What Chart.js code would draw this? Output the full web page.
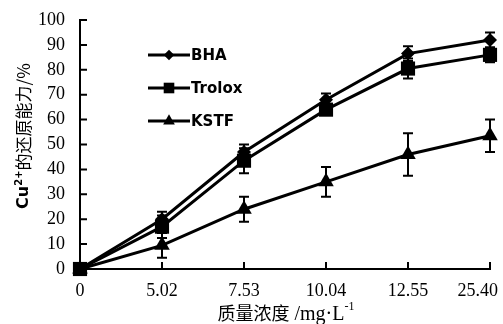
<!DOCTYPE html>
<html>
<head>
<meta charset="utf-8">
<script src="https://cdn.jsdelivr.net/npm/chart.js@4/dist/chart.umd.min.js"></script>
<style>
  html, body { margin: 0; padding: 0; background: #fff; }
  #wrap { width: 503px; height: 324px; }
</style>
</head>
<body>
<div id="wrap"><canvas id="chart" width="503" height="324"></canvas></div>
<script>
/* Cu2+ reducing power vs concentration */
const concLabels = ['0', '5.02', '7.53', '10.04', '12.55', '25.40'];
const bhaVals = [0, 20, 47, 68, 86.5, 92];
const bhaErr = [0, 3, 3, 2.5, 3, 3];
const troloxVals = [0, 17, 43.5, 64, 80.5, 86];
const troloxErr = [0, 4.5, 5, 2, 4, 3];
const kstfVals = [0, 9.5, 24, 35, 46, 53.5];
const kstfErr = [0, 5, 5, 6, 8.5, 6.5];
const seriesNames = ['BHA', 'Trolox', 'KSTF'];

const SERIF = '"Liberation Serif", "DejaVu Serif", serif';
const CJK = '"Noto Sans CJK SC", "Noto Sans", sans-serif';

function drawMarker(ctx, style, x, y, r) {
  ctx.beginPath();
  if (style === 'rectRot') {
    ctx.moveTo(x, y - r); ctx.lineTo(x + r, y); ctx.lineTo(x, y + r); ctx.lineTo(x - r, y);
  } else if (style === 'rect') {
    const s = Math.SQRT1_2 * r;
    ctx.rect(x - s, y - s, 2 * s, 2 * s);
  } else {
    const h = r * Math.sqrt(3) / 2;
    ctx.moveTo(x, y - r); ctx.lineTo(x + h, y + r / 2); ctx.lineTo(x - h, y + r / 2);
  }
  ctx.closePath();
  ctx.fill();
}

const errorBars = {
  id: 'errorBars',
  afterDatasetsDraw(chart) {
    const ctx = chart.ctx, y = chart.scales.y;
    ctx.save();
    ctx.strokeStyle = '#000';
    ctx.lineWidth = 2;
    chart.data.datasets.forEach((ds, i) => {
      const meta = chart.getDatasetMeta(i);
      meta.data.forEach((pt, j) => {
        const e = ds.errors[j];
        if (!e) return;
        const top = y.getPixelForValue(ds.data[j] + e);
        const bot = y.getPixelForValue(ds.data[j] - e);
        ctx.beginPath();
        ctx.moveTo(pt.x, top); ctx.lineTo(pt.x, bot);
        ctx.moveTo(pt.x - 5, top); ctx.lineTo(pt.x + 5, top);
        ctx.moveTo(pt.x - 5, bot); ctx.lineTo(pt.x + 5, bot);
        ctx.stroke();
      });
    });
    ctx.restore();
  }
};

const decorations = {
  id: 'decorations',
  afterDraw(chart) {
    const ctx = chart.ctx, xs = chart.scales.x, ys = chart.scales.y;
    const area = chart.chartArea;
    ctx.save();
    ctx.strokeStyle = '#000';
    ctx.fillStyle = '#000';
    ctx.lineWidth = 2;
    // inner tick marks
    ctx.beginPath();
    ys.ticks.forEach((t, i) => {
      const py = ys.getPixelForTick(i);
      ctx.moveTo(area.left, py); ctx.lineTo(area.left + 7, py);
    });
    xs.ticks.forEach((t, i) => {
      const px = xs.getPixelForTick(i);
      ctx.moveTo(px, area.bottom); ctx.lineTo(px, area.bottom - 7);
    });
    ctx.stroke();

    // x tick labels, last one kept inside the canvas
    ctx.font = '18px ' + SERIF;
    ctx.textBaseline = 'middle';
    ctx.textAlign = 'center';
    concLabels.forEach((lab, i) => {
      const w = ctx.measureText(lab).width;
      let px = xs.getPixelForTick(i);
      px = Math.min(px, 498 - w / 2);
      ctx.fillText(lab, px, area.bottom + 22);
    });

    // legend
    chart.data.datasets.forEach((ds, i) => {
      const ly = 55 + i * 33;
      ctx.lineWidth = 3;
      ctx.beginPath();
      ctx.moveTo(148, ly); ctx.lineTo(190, ly);
      ctx.stroke();
      drawMarker(ctx, ds.pointStyle, 169, ly, ds.pointRadius * 0.75);
      ctx.font = 'bold 15px "DejaVu Sans", sans-serif';
      ctx.textAlign = 'left';
      ctx.textBaseline = 'middle';
      ctx.fillText(ds.label, 191, ly + 1);
    });

    // y title
    ctx.save();
    ctx.translate(24, 136);
    ctx.rotate(-Math.PI / 2);
    ctx.textBaseline = 'middle';
    ctx.textAlign = 'left';
    const p1 = 'Cu', p2 = '2+', p3 = '的还原能力/%';
    ctx.font = 'bold 16px "DejaVu Sans", sans-serif';
    const w1 = ctx.measureText(p1).width;
    ctx.font = 'bold 10px "DejaVu Sans", sans-serif';
    const w2 = ctx.measureText(p2).width;
    ctx.font = '17px ' + CJK;
    const w3 = ctx.measureText(p3).width;
    let sx = -(w1 + w2 + w3) / 2;
    ctx.font = 'bold 16px "DejaVu Sans", sans-serif';
    ctx.fillText(p1, sx, 0); sx += w1;
    ctx.font = 'bold 10px "DejaVu Sans", sans-serif';
    ctx.fillText(p2, sx, -5); sx += w2;
    ctx.font = '17px ' + CJK;
    ctx.fillText(p3, sx, 0);
    ctx.restore();

    // x title
    const q1 = '质量浓度', q2 = ' /mg·L', q3 = '-1';
    ctx.textBaseline = 'alphabetic';
    ctx.textAlign = 'left';
    ctx.font = '18px ' + CJK;
    const v1 = ctx.measureText(q1).width;
    ctx.font = '20px ' + SERIF;
    const v2 = ctx.measureText(q2).width;
    ctx.font = '12px ' + SERIF;
    const v3 = ctx.measureText(q3).width;
    let tx = 286 - (v1 + v2 + v3) / 2;
    ctx.font = '18px ' + CJK;
    ctx.fillText(q1, tx, 320); tx += v1;
    ctx.font = '20px ' + SERIF;
    ctx.fillText(q2, tx, 320); tx += v2;
    ctx.font = '12px ' + SERIF;
    ctx.fillText(q3, tx, 310);
    ctx.restore();
  }
};

function mkDataset(label, data, errors, style, r) {
  return {
    label, data, errors,
    borderColor: '#000', backgroundColor: '#000',
    borderWidth: 3, pointStyle: style, pointRadius: r,
    pointBackgroundColor: '#000', pointBorderColor: '#000', pointBorderWidth: 0,
    tension: 0, fill: false, clip: false
  };
}

new Chart(document.getElementById('chart'), {
  type: 'line',
  data: {
    labels: concLabels,
    datasets: [
      mkDataset(seriesNames[0], bhaVals, bhaErr, 'rectRot', 7),
      mkDataset(seriesNames[1], troloxVals, troloxErr, 'rect', 10),
      mkDataset(seriesNames[2], kstfVals, kstfErr, 'triangle', 9)
    ]
  },
  options: {
    responsive: false,
    animation: false,
    layout: { padding: { top: 20, right: 13, left: 0, bottom: 0 } },
    plugins: { legend: { display: false }, tooltip: { enabled: false } },
    scales: {
      x: {
        offset: false,
        grid: { display: false, drawTicks: false },
        border: { color: '#000', width: 2 },
        ticks: { display: false },
        afterFit(s) { s.height = 55; s.paddingLeft = 0; s.paddingRight = 0; }
      },
      y: {
        min: 0, max: 100,
        grid: { display: false, drawTicks: false },
        border: { color: '#000', width: 2 },
        ticks: { stepSize: 10, autoSkip: false, color: '#000', font: { family: SERIF, size: 18 }, padding: 15 },
        afterFit(s) { s.width = 80; s.paddingTop = 0; s.paddingBottom = 0; }
      }
    }
  },
  plugins: [errorBars, decorations]
});
</script>
</body>
</html>
